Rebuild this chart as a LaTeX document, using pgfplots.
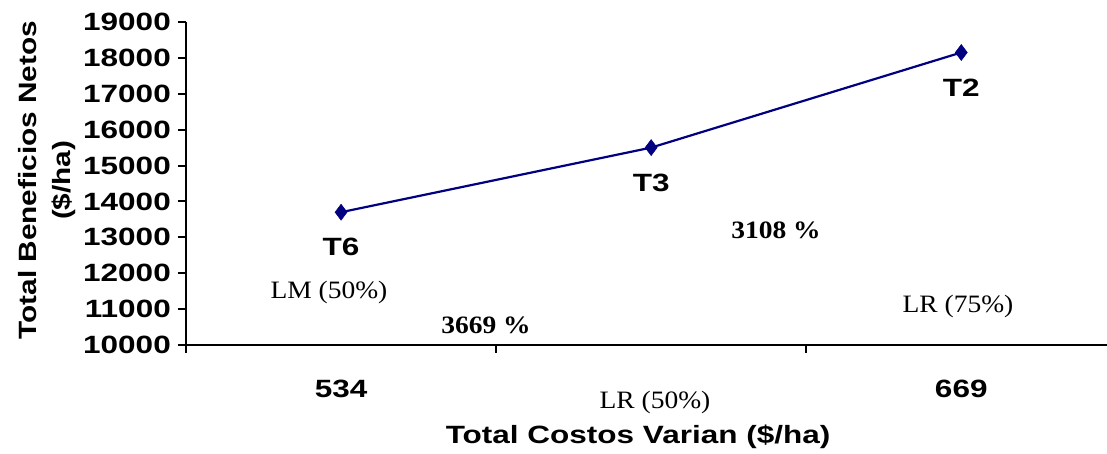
\documentclass[border=0pt]{standalone}
\usepackage{fontspec}
\setmainfont{Liberation Serif}
\setsansfont{Liberation Sans}
\newfontfamily\lblfont[FakeStretch=1.26]{Liberation Sans}
\newfontfamily\ylblfont[FakeStretch=1.19]{Liberation Sans}
\newfontfamily\notefont[FakeStretch=1.1]{Liberation Serif}
\usepackage{pgfplots}
\pgfplotsset{compat=1.18}
\definecolor{navyline}{RGB}{0,0,128}

\begin{document}
\begin{tikzpicture}
\begin{axis}[
    at={(0,0)}, anchor=south west,
    scale only axis,
    width=921pt, height=323pt,
    xmin=-0.5, xmax=2.47,
    ymin=10000, ymax=19000,
    axis lines*=left,
    axis line style={line width=2.2pt},
    tick align=outside,
    xtick={0,1,2},
    xticklabels={534,,669},
    major x tick style={draw=none},
    minor xtick={-0.5,0.5,1.5},
    ytick={10000,11000,...,19000},
    major tick length=8pt, minor tick length=8pt,
    tick style={line width=2pt, black},
    scaled y ticks=false,
    /pgf/number format/1000 sep={},
    /pgf/number format/assume math mode=true,
    tick label style={font=\fontsize{25}{25}\lblfont\bfseries},
    xticklabel style={anchor=base, inner sep=0pt, yshift=-44pt},
    yticklabel style={anchor=east, inner sep=0pt, xshift=-7pt},
    xlabel={Total Costos Varian (\$/ha)},
    xlabel style={at={(axis description cs:0.4908,-0.2848)}, anchor=center,
        font=\fontsize{25}{25}\lblfont\bfseries},
    ylabel={Total Beneficios Netos\\(\$/ha)},
    ylabel style={at={(axis description cs:-0.151,0.51)}, anchor=center,
        align=center, font=\fontsize{25}{34}\ylblfont\bfseries},
    nodes near coords,
    point meta=explicit symbolic,
    nodes near coords style={anchor=center, yshift=-35pt,
        font=\fontsize{25}{25}\lblfont\bfseries, text=black},
]
\addplot[navyline, line width=2.2pt, mark=diamond*, mark size=8pt,
    mark options={fill=navyline, line width=0.5pt}]
    coordinates {(0,13700)[T6] (1,15500)[T3] (2,18150)[T2]};
\end{axis}
\node[font=\fontsize{25}{25}\notefont] at (143pt,53pt) {LM (50\%)};
\node[font=\fontsize{25}{25}\notefont\bfseries] at (300pt,20pt) {3669 \%};
\node[font=\fontsize{25}{25}\notefont\bfseries] at (590pt,115pt) {3108 \%};
\node[font=\fontsize{25}{25}\notefont] at (772pt,39pt) {LR (75\%)};
\node[font=\fontsize{25}{25}\notefont] at (469pt,-57pt) {LR (50\%)};
\pgfresetboundingbox
\path[use as bounding box] (-186pt,-109pt) rectangle (921pt,345pt);
\end{tikzpicture}
\end{document}
